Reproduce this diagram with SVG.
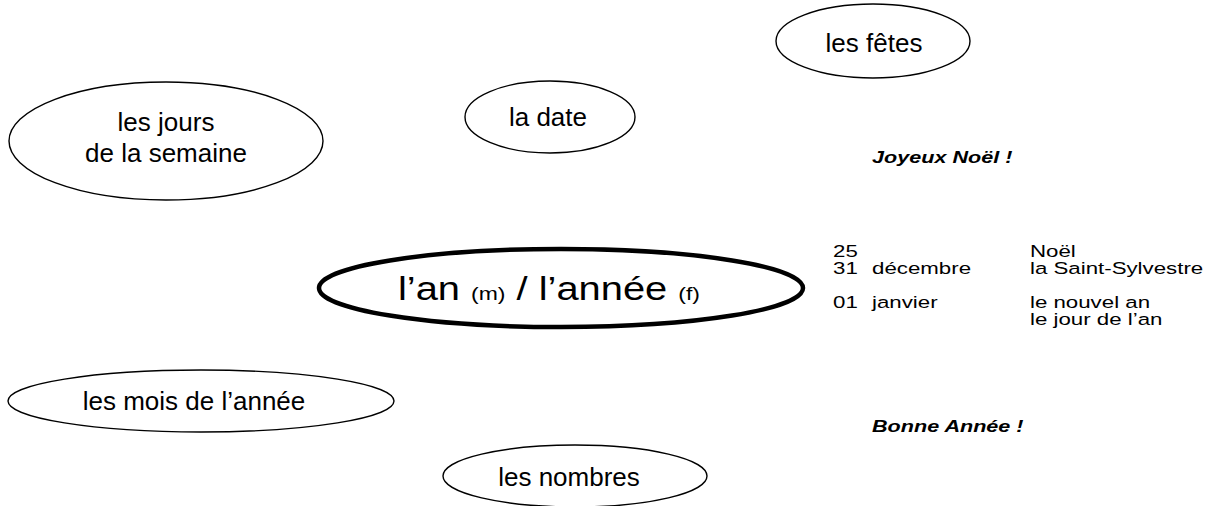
<svg xmlns="http://www.w3.org/2000/svg" width="1215" height="506" viewBox="0 0 1215 506">
<style>
.e{fill:none;stroke:#000;stroke-width:1.4}
.t{font-family:"Liberation Sans",Arial,sans-serif;font-size:26px;fill:#000;text-anchor:middle}
.s{font-family:"Liberation Sans",Arial,sans-serif;font-size:16.5px;fill:#000}
.b{font-family:"Liberation Sans",Arial,sans-serif;font-size:16px;font-weight:bold;font-style:italic;fill:#000}
</style>
<rect width="1215" height="506" fill="#fff"/>
<g id="fetes"><ellipse class="e" cx="873" cy="41" rx="97" ry="37"/><text class="t" x="874" y="52">les fêtes</text></g>
<g id="jours"><ellipse class="e" cx="166" cy="141" rx="157" ry="59"/><text class="t" x="166" y="131">les jours</text><text class="t" x="166" y="162">de la semaine</text></g>
<g id="date"><ellipse class="e" cx="550" cy="117" rx="85" ry="36"/><text class="t" x="548" y="126">la date</text></g>
<g id="annee"><ellipse cx="561" cy="288" rx="242" ry="39" fill="none" stroke="#000" stroke-width="4.5"/><text x="398" y="300" textLength="302" lengthAdjust="spacingAndGlyphs" style="font-family:'Liberation Sans',Arial,sans-serif;font-size:33px;fill:#000">l’an <tspan style="font-size:19px">(m)</tspan> / l’année <tspan style="font-size:19px">(f)</tspan></text></g>
<g id="mois"><ellipse class="e" cx="201" cy="401" rx="193" ry="31"/><text class="t" x="194" y="410">les mois de l’année</text></g>
<g id="nombres"><ellipse class="e" cx="575" cy="476" rx="132" ry="31"/><text class="t" x="569" y="486">les nombres</text></g>
<g id="connectors"/>
<g id="notes" transform="translate(833,0) scale(1.35,1)">
<text class="b" x="28.9" y="163">Joyeux Noël !</text>
<text class="s" x="0" y="257">25</text><text class="s" x="145.9" y="257">Noël</text>
<text class="s" x="0" y="274">31</text><text class="s" x="28.9" y="274">décembre</text><text class="s" x="145.9" y="274">la Saint-Sylvestre</text>
<text class="s" x="0" y="308">01</text><text class="s" x="28.9" y="308">janvier</text><text class="s" x="145.9" y="308">le nouvel an</text>
<text class="s" x="145.9" y="325">le jour de l’an</text>
<text class="b" x="28.9" y="432">Bonne Année !</text>
</g>
</svg>
